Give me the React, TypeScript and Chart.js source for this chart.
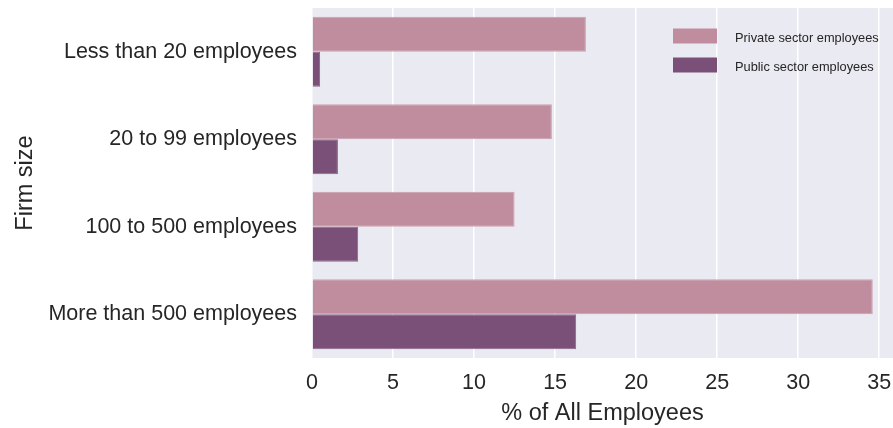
import React, { useEffect, useRef } from "react";
import { Chart, registerables } from "chart.js";

Chart.register(...registerables);

const categories = [
  "Less than 20 employees",
  "20 to 99 employees",
  "100 to 500 employees",
  "More than 500 employees",
];
const privateValues = [16.9, 14.8, 12.5, 34.6];
const publicValues = [0.5, 1.6, 2.85, 16.3];
const seriesNames = ["Private sector employees", "Public sector employees"];
const xTicks = [0, 5, 10, 15, 20, 25, 30, 35];

const FONT = "'Liberation Sans', Arial, sans-serif";

const bgPlugin = {
  id: "bgPlugin",
  beforeDraw(chart: any) {
    const { ctx, chartArea } = chart;
    ctx.save();
    ctx.fillStyle = "#EAEAF2";
    ctx.fillRect(chartArea.left, chartArea.top, chartArea.right - chartArea.left, chartArea.bottom - chartArea.top);
    ctx.restore();
  },
};

const legendPlugin = {
  id: "innerLegend",
  afterDraw(chart: any) {
    const { ctx } = chart;
    ctx.save();
    chart.data.datasets.forEach((ds: any, i: number) => {
      const y = 36 + i * 29;
      ctx.fillStyle = ds.backgroundColor;
      ctx.fillRect(673, y - 7.5, 44, 15);
      ctx.fillStyle = "#262626";
      ctx.font = `12.8px ${FONT}`;
      ctx.textBaseline = "middle";
      ctx.textAlign = "left";
      ctx.fillText(ds.label, 735, y + 2);
    });
    ctx.restore();
  },
};

export default function App() {
  const ref = useRef<HTMLCanvasElement>(null);
  useEffect(() => {
    document.body.style.margin = "0";
    const chart = new Chart(ref.current!, {
      type: "bar",
      data: {
        labels: categories,
        datasets: [
          {
            label: seriesNames[0],
            data: privateValues,
            backgroundColor: "#C08D9E",
            borderColor: "#CC9FAE",
            borderWidth: 1,
            categoryPercentage: 0.8,
            barPercentage: 1,
          },
          {
            label: seriesNames[1],
            data: publicValues,
            backgroundColor: "#7B5078",
            borderColor: "#8C6389",
            borderWidth: 1,
            categoryPercentage: 0.8,
            barPercentage: 1,
          },
        ],
      },
      options: {
        indexAxis: "y",
        animation: false,
        responsive: false,
        maintainAspectRatio: false,
        layout: { padding: { top: 8, left: 0, right: 0, bottom: 0 } },
        plugins: { legend: { display: false }, tooltip: { enabled: false } },
        scales: {
          x: {
            min: 0,
            max: 35.85,
            afterBuildTicks(scale: any) {
              scale.ticks = xTicks.map((v) => ({ value: v }));
            },
            afterFit(scale: any) {
              scale.height = 70;
              scale.paddingLeft = 0;
              scale.paddingRight = 0;
            },
            grid: { color: "#FFFFFF", lineWidth: 1.5, drawTicks: false },
            border: { display: false },
            ticks: {
              padding: 12,
              color: "#262626",
              font: { family: FONT, size: 21.5 },
            },
            title: {
              display: true,
              text: "% of All Employees",
              color: "#262626",
              font: { family: FONT, size: 23.5 },
              padding: { top: 0, bottom: 0 },
            },
          },
          y: {
            afterFit(scale: any) {
              scale.width = 312;
              scale.paddingTop = 0;
              scale.paddingBottom = 0;
            },
            grid: { display: false, drawTicks: false },
            border: { display: false },
            ticks: {
              padding: 15,
              color: "#262626",
              font: { family: FONT, size: 21.5 },
            },
            title: {
              display: true,
              text: "Firm size",
              color: "#262626",
              font: { family: FONT, size: 23.5 },
              padding: { top: 11, bottom: 0 },
            },
          },
        },
      },
      plugins: [bgPlugin, legendPlugin],
    } as any);
    return () => chart.destroy();
  }, []);
  return <canvas ref={ref} width={893} height={428} style={{ display: "block" }} />;
}
